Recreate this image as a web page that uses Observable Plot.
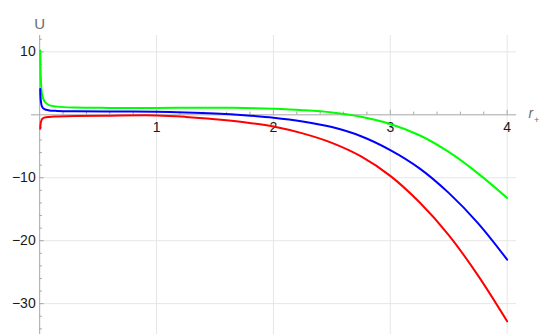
<!DOCTYPE html>
<html><head><meta charset="utf-8">
<script src="https://cdn.jsdelivr.net/npm/d3@7"></script>
<script src="https://cdn.jsdelivr.net/npm/@observablehq/plot@0.6"></script>
<style>body{margin:0;background:#fff;}</style>
</head><body><div id="chart"></div>
<script>
// r+ sample positions and read-off U values
const rPlus  = [0.005, 0.01, 0.02, 0.04, 0.08, 0.15, 0.3, 0.6, 1, 1.25, 1.5, 1.75, 2, 2.25, 2.5, 2.75, 3, 3.25, 3.5, 3.75, 4];
const uGreen = [10.2, 5.6, 3.3, 2.15, 1.55, 1.3, 1.15, 1.1, 1.1, 1.12, 1.13, 1.08, 0.96, 0.74, 0.38, -0.3, -1.45, -3.25, -5.9, -9.3, -13.2];
const uBlue  = [4.1, 2.2, 1.3, 0.9, 0.7, 0.62, 0.57, 0.54, 0.5, 0.38, 0.2, -0.07, -0.45, -1.05, -1.95, -3.4, -5.6, -8.5, -12.4, -17.2, -23.0];
const uRed   = [-2.2, -1.2, -0.7, -0.45, -0.33, -0.27, -0.2, -0.13, -0.1, -0.33, -0.7, -1.18, -1.85, -2.95, -4.45, -6.6, -9.7, -13.9, -19.1, -25.5, -32.8];

const seriesNames  = ["curve A", "curve B", "curve C"];
const seriesColors = ["#00ff00", "#0000ff", "#ff0000"];

const xMajorTicks = [1, 2, 3, 4];
const xTickLabels = ["1", "2", "3", "4"];
const xMinorTicks = [0.2, 0.4, 0.6, 0.8, 1.2, 1.4, 1.6, 1.8, 2.2, 2.4, 2.6, 2.8, 3.2, 3.4, 3.6, 3.8];
const yMajorTicks = [10, -10, -20, -30];
const yTickLabels = ["10", "\u221210", "\u221220", "\u221230"];
const yMinorTicks = [12, 8, 6, 4, 2, -2, -4, -6, -8, -12, -14, -16, -18, -22, -24, -26, -28, -32, -34];

const xDomain = [-0.07, 4.08];
const yDomain = [-34.9, 12.6];

const seriesValues = [uGreen, uBlue, uRed];
const rows = [];
seriesNames.forEach((s, k) => rPlus.forEach((r, i) => rows.push({r, u: seriesValues[k][i], s})));

const axisColor = "#a6a6a6";
const gridColor = "#e6e6e6";

const chart = Plot.plot({
  width: 539, height: 334,
  marginLeft: 31, marginRight: 23, marginTop: 35, marginBottom: 0,
  x: {domain: xDomain, axis: null},
  y: {domain: yDomain, axis: null},
  color: {type: "categorical", domain: seriesNames, range: seriesColors},
  style: {fontFamily: "'Liberation Sans', Arial, sans-serif", background: "#fff"},
  marks: [
    Plot.ruleX(xMajorTicks, {x: d => d, stroke: gridColor}),
    Plot.ruleY(yMajorTicks, {y: d => d, x1: 0, x2: xDomain[1], stroke: gridColor}),
    Plot.ruleY([0], {stroke: axisColor}),
    Plot.ruleX([0], {stroke: axisColor}),
    Plot.ruleX(xMinorTicks, {x: d => d, y1: 0, y2: 0, insetTop: -2.7, stroke: axisColor}),
    Plot.ruleX(xMajorTicks, {x: d => d, y1: 0, y2: 0, insetTop: -4.5, stroke: axisColor}),
    Plot.ruleY(yMinorTicks, {y: d => d, x1: 0, x2: 0, insetRight: -2.7, stroke: axisColor}),
    Plot.ruleY(yMajorTicks, {y: d => d, x1: 0, x2: 0, insetRight: -4.5, stroke: axisColor}),
    Plot.text(xMajorTicks, {x: d => d, y: 0, text: (d, i) => xTickLabels[i], dy: 12.5, fontSize: 14, fill: "#1a1a1a"}),
    Plot.text(yMajorTicks, {x: 0, y: d => d, text: (d, i) => yTickLabels[i], textAnchor: "end", dx: -4, fontSize: 14, fill: "#1a1a1a"}),
    Plot.line(rows, {x: "r", y: "u", z: "s", stroke: "s", strokeWidth: 2, curve: "catmull-rom"}),
    Plot.text(["U"], {x: 0, frameAnchor: "top", dy: -17, fontSize: 15, fill: "#6e6e6e"}),
    Plot.text(["r"], {y: 0, frameAnchor: "right", textAnchor: "start", dx: 12, dy: -1, fontSize: 14, fontStyle: "italic", fill: "#6e6e6e"}),
    Plot.text(["+"], {y: 0, frameAnchor: "right", textAnchor: "start", dx: 17.5, dy: 5, fontSize: 9, fill: "#6e6e6e"})
  ]
});
document.getElementById("chart").appendChild(chart);
</script>
</body></html>
